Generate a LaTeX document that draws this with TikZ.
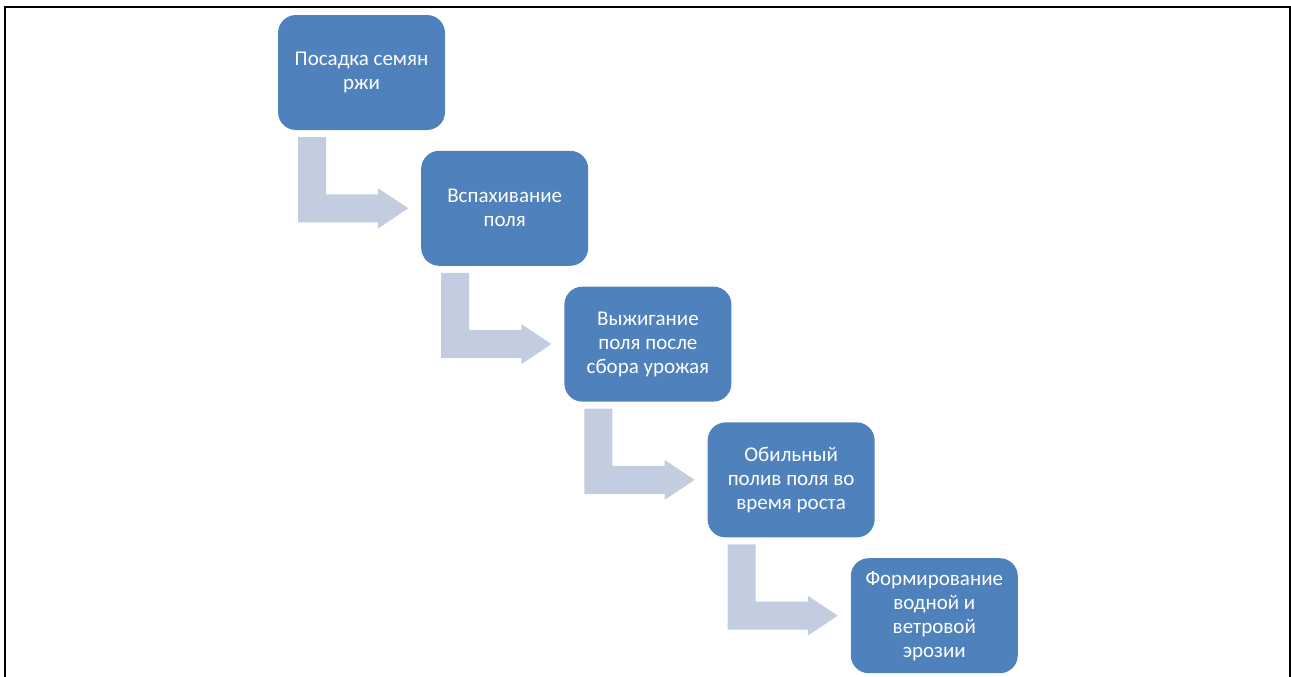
\documentclass[tikz,border=0pt]{standalone}
\usepackage{fontspec}
\setmainfont{Carlito}
\usetikzlibrary{positioning,calc}
\definecolor{stepblue}{HTML}{4F81BD}
\definecolor{bentgrey}{HTML}{C3CDE0}

\begin{document}
\begin{tikzpicture}[
  stepbox/.style={fill=stepblue,draw=none,rounded corners=18bp,
    minimum width=167bp,minimum height=115bp,inner sep=0pt,outer sep=0pt,
    align=center,text=white,font=\fontsize{21bp}{24bp}\selectfont},
  bent/.style={fill=bentgrey,draw=none},
  frame/.style={draw=black,line width=2bp}
]
  % Page size and the open frame round the figure (no bottom edge).
  \useasboundingbox (0,0) rectangle (1291bp,-677bp);
  \draw[frame] (5bp,-677bp) -- (5bp,-7bp) -- (1290bp,-7bp) -- (1290bp,-677bp);

  % Staircase of process steps.
  \node[stepbox] (s1) at (361.5bp,-72.5bp) {Посадка семян\\ржи};
  \node[stepbox,below right=20.8bp and -23.8bp of s1] (s2) {Вспахивание\\поля};
  \node[stepbox,below right=20.8bp and -23.8bp of s2] (s3) {Выжигание\\поля после\\сбора урожая};
  \node[stepbox,below right=20.8bp and -23.8bp of s3] (s4) {Обильный\\полив поля во\\время роста};
  \node[stepbox,below right=20.8bp and -23.8bp of s4] (s5) {Формирование\\водной и\\ветровой\\эрозии};

  % Bent arrows: down from one step, then right into the next.
  \foreach \src/\dst in {s1/s2,s2/s3,s3/s4,s4/s5} {
    \fill[bent] ($(\src.south west)+(20bp,-7bp)$) coordinate (top)
      -- ++(28bp,0) |- ($(\dst.west)+(-43bp,14bp)$)
      -- ++(0,6bp) -- ($(\dst.west)+(-13bp,0)$)
      -- ++(-30bp,-20bp) -- ++(0,6bp) -| (top) -- cycle;
  }
\end{tikzpicture}
\end{document}
